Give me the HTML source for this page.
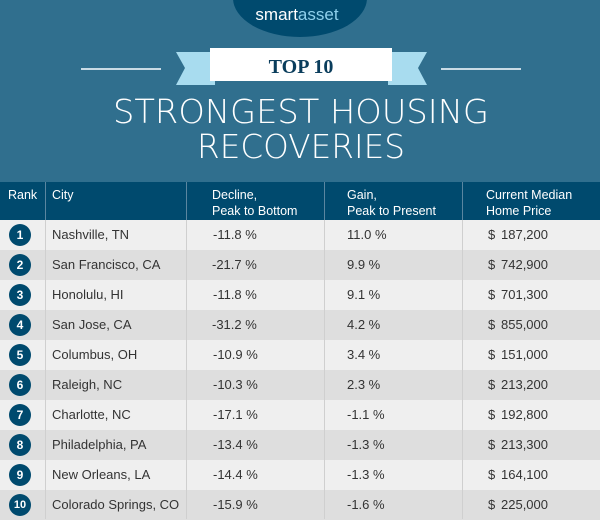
<!DOCTYPE html>
<html><head><meta charset="utf-8"><style>
*{margin:0;padding:0;box-sizing:border-box}
body{width:600px;height:519px;overflow:hidden;background:#306f8e;font-family:"Liberation Sans",sans-serif;position:relative}
.a{position:absolute}
.hd{left:0;top:182px;width:600px;height:38px;background:#004a6e}
.th{color:#fff;font-size:12.5px;line-height:16px;top:187px}
.row{left:0;width:600px;height:30px}
.c{position:absolute;top:0;line-height:30px;font-size:13px;color:#333}
.n{position:absolute;left:9px;top:4px;width:22px;height:22px;border-radius:50%;background:#004a6e;color:#fff;font-weight:bold;font-size:12px;line-height:22px;text-align:center}
.vl{top:182px;width:1px;height:337px;background:#cfcfcf}
.vh{top:182px;width:1px;height:38px;background:#5a86a0}
.pr{position:absolute;left:488px;top:0;line-height:30px;font-size:13px;color:#333;width:60px}
.pr span{float:right}
</style></head><body>
<svg class="a" style="left:0;top:0" width="600" height="182">
<ellipse cx="300" cy="-2" rx="67" ry="39" fill="#004a6e"/>
<text x="297" y="20" text-anchor="middle" font-family="Liberation Sans" font-size="17" fill="#fff">smart<tspan fill="#8fd0ec">asset</tspan></text>
<line x1="81" y1="69" x2="161" y2="69" stroke="#c9dbe5" stroke-width="2"/>
<line x1="441" y1="69" x2="521" y2="69" stroke="#c9dbe5" stroke-width="2"/>
<polygon points="176,52 215,52 215,85 176,85 185,68" fill="#a8dcef"/>
<polygon points="427,52 388,52 388,85 427,85 418,68" fill="#a8dcef"/>
<rect x="210" y="48" width="182" height="33" fill="#fff"/>
<text x="301" y="73" text-anchor="middle" font-family="Liberation Serif" font-weight="bold" font-size="20" fill="#0a3d5c">TOP 10</text>
<text x="301" y="123" text-anchor="middle" font-family="DejaVu Sans" font-weight="200" font-size="33" fill="#fff" textLength="376" lengthAdjust="spacingAndGlyphs">STRONGEST HOUSING</text>
<text x="301" y="158" text-anchor="middle" font-family="DejaVu Sans" font-weight="200" font-size="33" fill="#fff" textLength="208" lengthAdjust="spacingAndGlyphs">RECOVERIES</text>
</svg>
<div class="a hd"></div>
<div class="a th" style="left:8px">Rank</div>
<div class="a th" style="left:52px">City</div>
<div class="a th" style="left:212px">Decline,<br>Peak to Bottom</div>
<div class="a th" style="left:347px">Gain,<br>Peak to Present</div>
<div class="a th" style="left:486px">Current Median<br>Home Price</div>

<div class="a row" style="top:220px;background:#efefef"><div class="n">1</div><div class="c" style="left:52px">Nashville, TN</div><div class="c" style="left:213px">-11.8 %</div><div class="c" style="left:347px">11.0 %</div><div class="pr">$<span>187,200</span></div></div>
<div class="a row" style="top:250px;background:#dedede"><div class="n">2</div><div class="c" style="left:52px">San Francisco, CA</div><div class="c" style="left:212px">-21.7 %</div><div class="c" style="left:347px">9.9 %</div><div class="pr">$<span>742,900</span></div></div>
<div class="a row" style="top:280px;background:#efefef"><div class="n">3</div><div class="c" style="left:52px">Honolulu, HI</div><div class="c" style="left:213px">-11.8 %</div><div class="c" style="left:347px">9.1 %</div><div class="pr">$<span>701,300</span></div></div>
<div class="a row" style="top:310px;background:#dedede"><div class="n">4</div><div class="c" style="left:52px">San Jose, CA</div><div class="c" style="left:212px">-31.2 %</div><div class="c" style="left:347px">4.2 %</div><div class="pr">$<span>855,000</span></div></div>
<div class="a row" style="top:340px;background:#efefef"><div class="n">5</div><div class="c" style="left:52px">Columbus, OH</div><div class="c" style="left:213px">-10.9 %</div><div class="c" style="left:347px">3.4 %</div><div class="pr">$<span>151,000</span></div></div>
<div class="a row" style="top:370px;background:#dedede"><div class="n">6</div><div class="c" style="left:52px">Raleigh, NC</div><div class="c" style="left:213px">-10.3 %</div><div class="c" style="left:347px">2.3 %</div><div class="pr">$<span>213,200</span></div></div>
<div class="a row" style="top:400px;background:#efefef"><div class="n">7</div><div class="c" style="left:52px">Charlotte, NC</div><div class="c" style="left:213px">-17.1 %</div><div class="c" style="left:347px">-1.1 %</div><div class="pr">$<span>192,800</span></div></div>
<div class="a row" style="top:430px;background:#dedede"><div class="n">8</div><div class="c" style="left:52px">Philadelphia, PA</div><div class="c" style="left:213px">-13.4 %</div><div class="c" style="left:347px">-1.3 %</div><div class="pr">$<span>213,300</span></div></div>
<div class="a row" style="top:460px;background:#efefef"><div class="n">9</div><div class="c" style="left:52px">New Orleans, LA</div><div class="c" style="left:213px">-14.4 %</div><div class="c" style="left:347px">-1.3 %</div><div class="pr">$<span>164,100</span></div></div>
<div class="a row" style="top:490px;background:#dedede"><div class="n" style="font-size:11px">10</div><div class="c" style="left:52px">Colorado Springs, CO</div><div class="c" style="left:213px">-15.9 %</div><div class="c" style="left:347px">-1.6 %</div><div class="pr">$<span>225,000</span></div></div>

<div class="a vl" style="left:45px"></div><div class="a vl" style="left:186px"></div><div class="a vl" style="left:324px"></div><div class="a vl" style="left:462px"></div>
<div class="a vh" style="left:45px"></div><div class="a vh" style="left:186px"></div><div class="a vh" style="left:324px"></div><div class="a vh" style="left:462px"></div>
</body></html>
